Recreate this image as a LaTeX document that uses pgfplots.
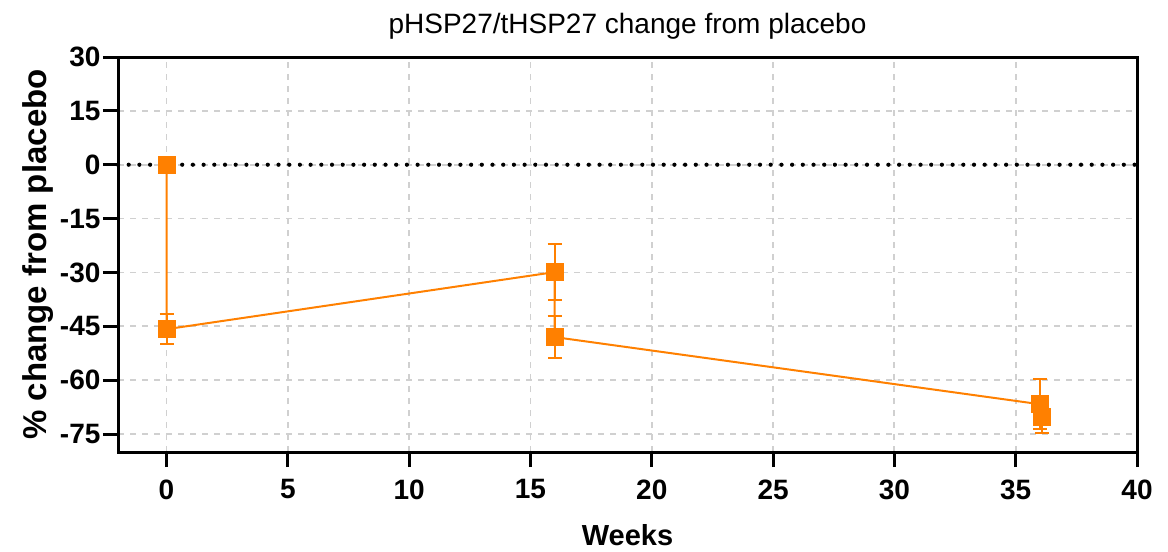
\documentclass[border=0pt]{standalone}
\usepackage{fontspec}
\setmainfont{Liberation Sans}
\usepackage{pgfplots}
\pgfplotsset{compat=1.18}
\definecolor{org}{HTML}{FF8000}
\definecolor{gridc}{HTML}{D0D0D0}
\begin{document}
\begin{tikzpicture}
\begin{axis}[
  name=ax,
  scale only axis,
  width=1019pt, height=395pt,
  xmin=-2, xmax=40, ymin=-80, ymax=30,
  xtick={0,5,...,40}, ytick={-75,-60,...,30},
  axis line style={line width=3pt, black},
  tick style={line width=3pt, black},
  major tick length=15pt,
  tick align=outside,
  xtick pos=bottom, ytick pos=left,
  /pgf/number format/assume math mode=true,
  ticklabel style={font=\bfseries\fontsize{28}{28}\selectfont},
  xticklabel style={yshift=-9pt},
  yticklabel style={xshift=1pt},
  grid=major,
  major grid style={gridc, line width=1.8pt, dash pattern=on 6pt off 6pt},
  title={pHSP27/tHSP27 change from placebo},
  title style={font=\fontsize{28}{28}\selectfont, yshift=8pt},
  xlabel={Weeks},
  ylabel={\% change from placebo},
  xlabel style={font=\bfseries\fontsize{29}{29}\selectfont, yshift=-18pt},
  ylabel style={font=\bfseries\fontsize{33}{33}\selectfont, yshift=0pt},
  clip=false,
]
\addplot[black, line width=4.2pt, dash pattern=on 0pt off 10.7pt, line cap=round, forget plot] coordinates {(-2,0) (40,0)};
\addplot[org, line width=2pt, mark=square*, mark size=8pt, mark options={solid, fill=org, draw=org},
  error bars/.cd, y dir=both, y explicit, error bar style={line width=2pt, org},
  error mark options={rotate=90, mark size=7pt, line width=2pt, org}]
  coordinates {
  (0,0) +- (0,0)
  (0,-45.8) +- (0,4.1)
  (16,-29.9) +- (0,7.8)
  (16,-48.0) +- (0,5.8)
  (36,-66.7) +- (0,7.0)
  (36.1,-70.3) +- (0,4.4)
  };
\end{axis}
\pgfresetboundingbox
\path ([shift={(-118pt,-99pt)}]ax.south west) rectangle ([shift={(31pt,57pt)}]ax.north east);
\end{tikzpicture}
\end{document}
